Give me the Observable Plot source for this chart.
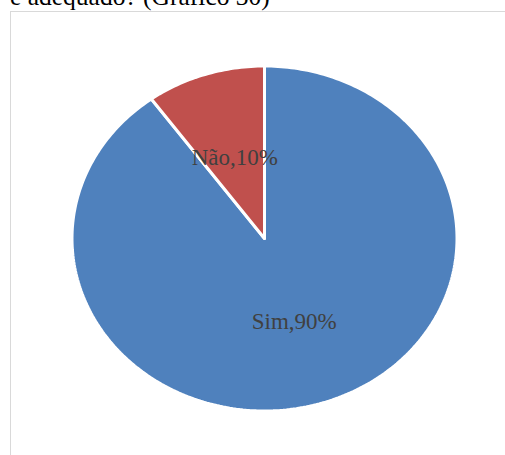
<!DOCTYPE html>
<html>
<head>
<meta charset="utf-8">
<script src="https://cdn.jsdelivr.net/npm/d3@7"></script>
<script src="https://cdn.jsdelivr.net/npm/@observablehq/plot@0.6"></script>
<style>
  html, body { margin: 0; padding: 0; background: #fff; }
  #wrap { position: relative; width: 505px; height: 455px; overflow: hidden; }
  #title { position: absolute; left: 10px; top: -16px; font-family: "Liberation Serif", "DejaVu Serif", serif; font-size: 25.5px; line-height: 25.5px; color: #000; white-space: nowrap; }
  #box { position: absolute; left: 10px; top: 11px; width: 520px; height: 470px; border: 1px solid #d9d9d9; box-sizing: border-box; }
  #chart { position: absolute; left: 0; top: 0; }
</style>
</head>
<body>
<div id="wrap">
  <div id="title">é adequado? (Gráfico 30)</div>
  <div id="box"></div>
  <div id="chart"></div>
</div>
<script>
const categories = ["Sim", "Não"];
const values = [90, 10];
const colors = ["#4F81BD", "#C0504D"];

const data = categories.map((c, i) => ({category: c, value: values[i]}));

// slices go clockwise from 12 o'clock; "Não" ends at the top
const pie = d3.pie().value(d => d.value).sort(null).startAngle(0).endAngle(2 * Math.PI);
const arcs = pie(data);

const pts = [];
const labels = [];
for (const a of arcs) {
  const n = Math.max(8, Math.ceil((a.endAngle - a.startAngle) / (Math.PI / 180)));
  pts.push({category: a.data.category, x: 0, y: 0});
  for (let k = 0; k <= n; k++) {
    const t = a.startAngle + (a.endAngle - a.startAngle) * k / n;
    pts.push({category: a.data.category, x: Math.sin(t), y: Math.cos(t)});
  }
  pts.push({category: a.data.category, x: 0, y: 0});
  const m = (a.startAngle + a.endAngle) / 2;
  labels.push({category: a.data.category, x: 0.5 * Math.sin(m), y: 0.5 * Math.cos(m), text: `${a.data.category},${a.data.value}%`});
}

const chart = Plot.plot({
  width: 505,
  height: 455,
  marginLeft: 71.5,
  marginRight: 48.5,
  marginTop: 65.5,
  marginBottom: 44.5,
  x: {domain: [-1, 1], axis: null},
  y: {domain: [-1, 1], axis: null},
  color: {domain: categories, range: colors},
  style: {background: "transparent", overflow: "visible"},
  marks: [
    Plot.line(pts, {x: "x", y: "y", z: "category", fill: "category", stroke: "white", strokeWidth: 3, strokeLinejoin: "miter", curve: "linear"}),
    Plot.text(labels, {x: "x", y: "y", dy: 1, text: "text", fill: "#404040", fontSize: 23, fontFamily: "Liberation Serif, DejaVu Serif, serif"})
  ]
});
document.getElementById("chart").appendChild(chart);
</script>
</body>
</html>
